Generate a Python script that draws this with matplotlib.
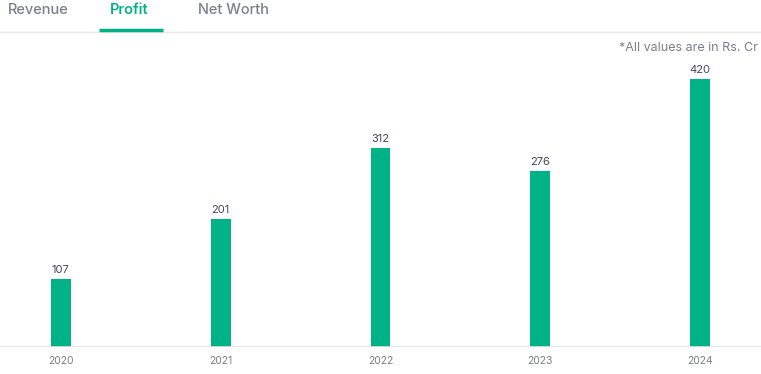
import matplotlib
matplotlib.use("Agg")
import matplotlib.pyplot as plt
from matplotlib.lines import Line2D

years = ["2020", "2021", "2022", "2023", "2024"]
profit = [107, 201, 312, 276, 420]
tabs = ["Revenue", "Profit", "Net Worth"]

GREEN = "#00b386"
GRAY_TXT = "#7c7e8c"

plt.rcParams['font.family'] = ['Inter', 'DejaVu Sans']

fig = plt.figure(figsize=(7.61, 3.74), dpi=100)
W, H = 761, 374
ax = fig.add_axes([0, 27 / H, 1, 307 / H])
x = list(range(len(years)))
ax.bar(x, profit, width=0.125, color=GREEN)
ax.set_xlim(-0.38, 4.38)
ax.set_ylim(0, 481)
for xi, v in zip(x, profit):
    ax.text(xi, v + 6, str(v), ha="center", va="bottom", fontsize=8, color="#44475b")
for s in ax.spines.values():
    s.set_visible(False)
ax.set_yticks([])
ax.set_xticks(x)
ax.set_xticklabels(years, fontsize=7.5, color=GRAY_TXT)
ax.tick_params(axis="x", length=0, pad=6.5)
ax.axhline(0, color="#e3e3e3", lw=1.2)

# Tabs
tab_x = [8, 110, 198]
for t, tx in zip(tabs, tab_x):
    fig.text(tx / W, 1 - 10 / H, t, fontsize=10.5, va="center", ha="left",
             color=GREEN if t == "Profit" else GRAY_TXT,
             fontweight="semibold" if t == "Profit" else "medium")
fig.add_artist(Line2D([0, 1], [1 - 31.5 / H] * 2, color="#e8e8e8", lw=1))
fig.add_artist(Line2D([99 / W, 163 / W], [1 - 29.5 / H] * 2, color=GREEN, lw=2.5, solid_capstyle="butt"))

fig.text(758 / W, 1 - 48 / H, "*All values are in Rs. Cr", fontsize=9, ha="right", va="center", color=GRAY_TXT)

fig.savefig("out.png", dpi=100)
